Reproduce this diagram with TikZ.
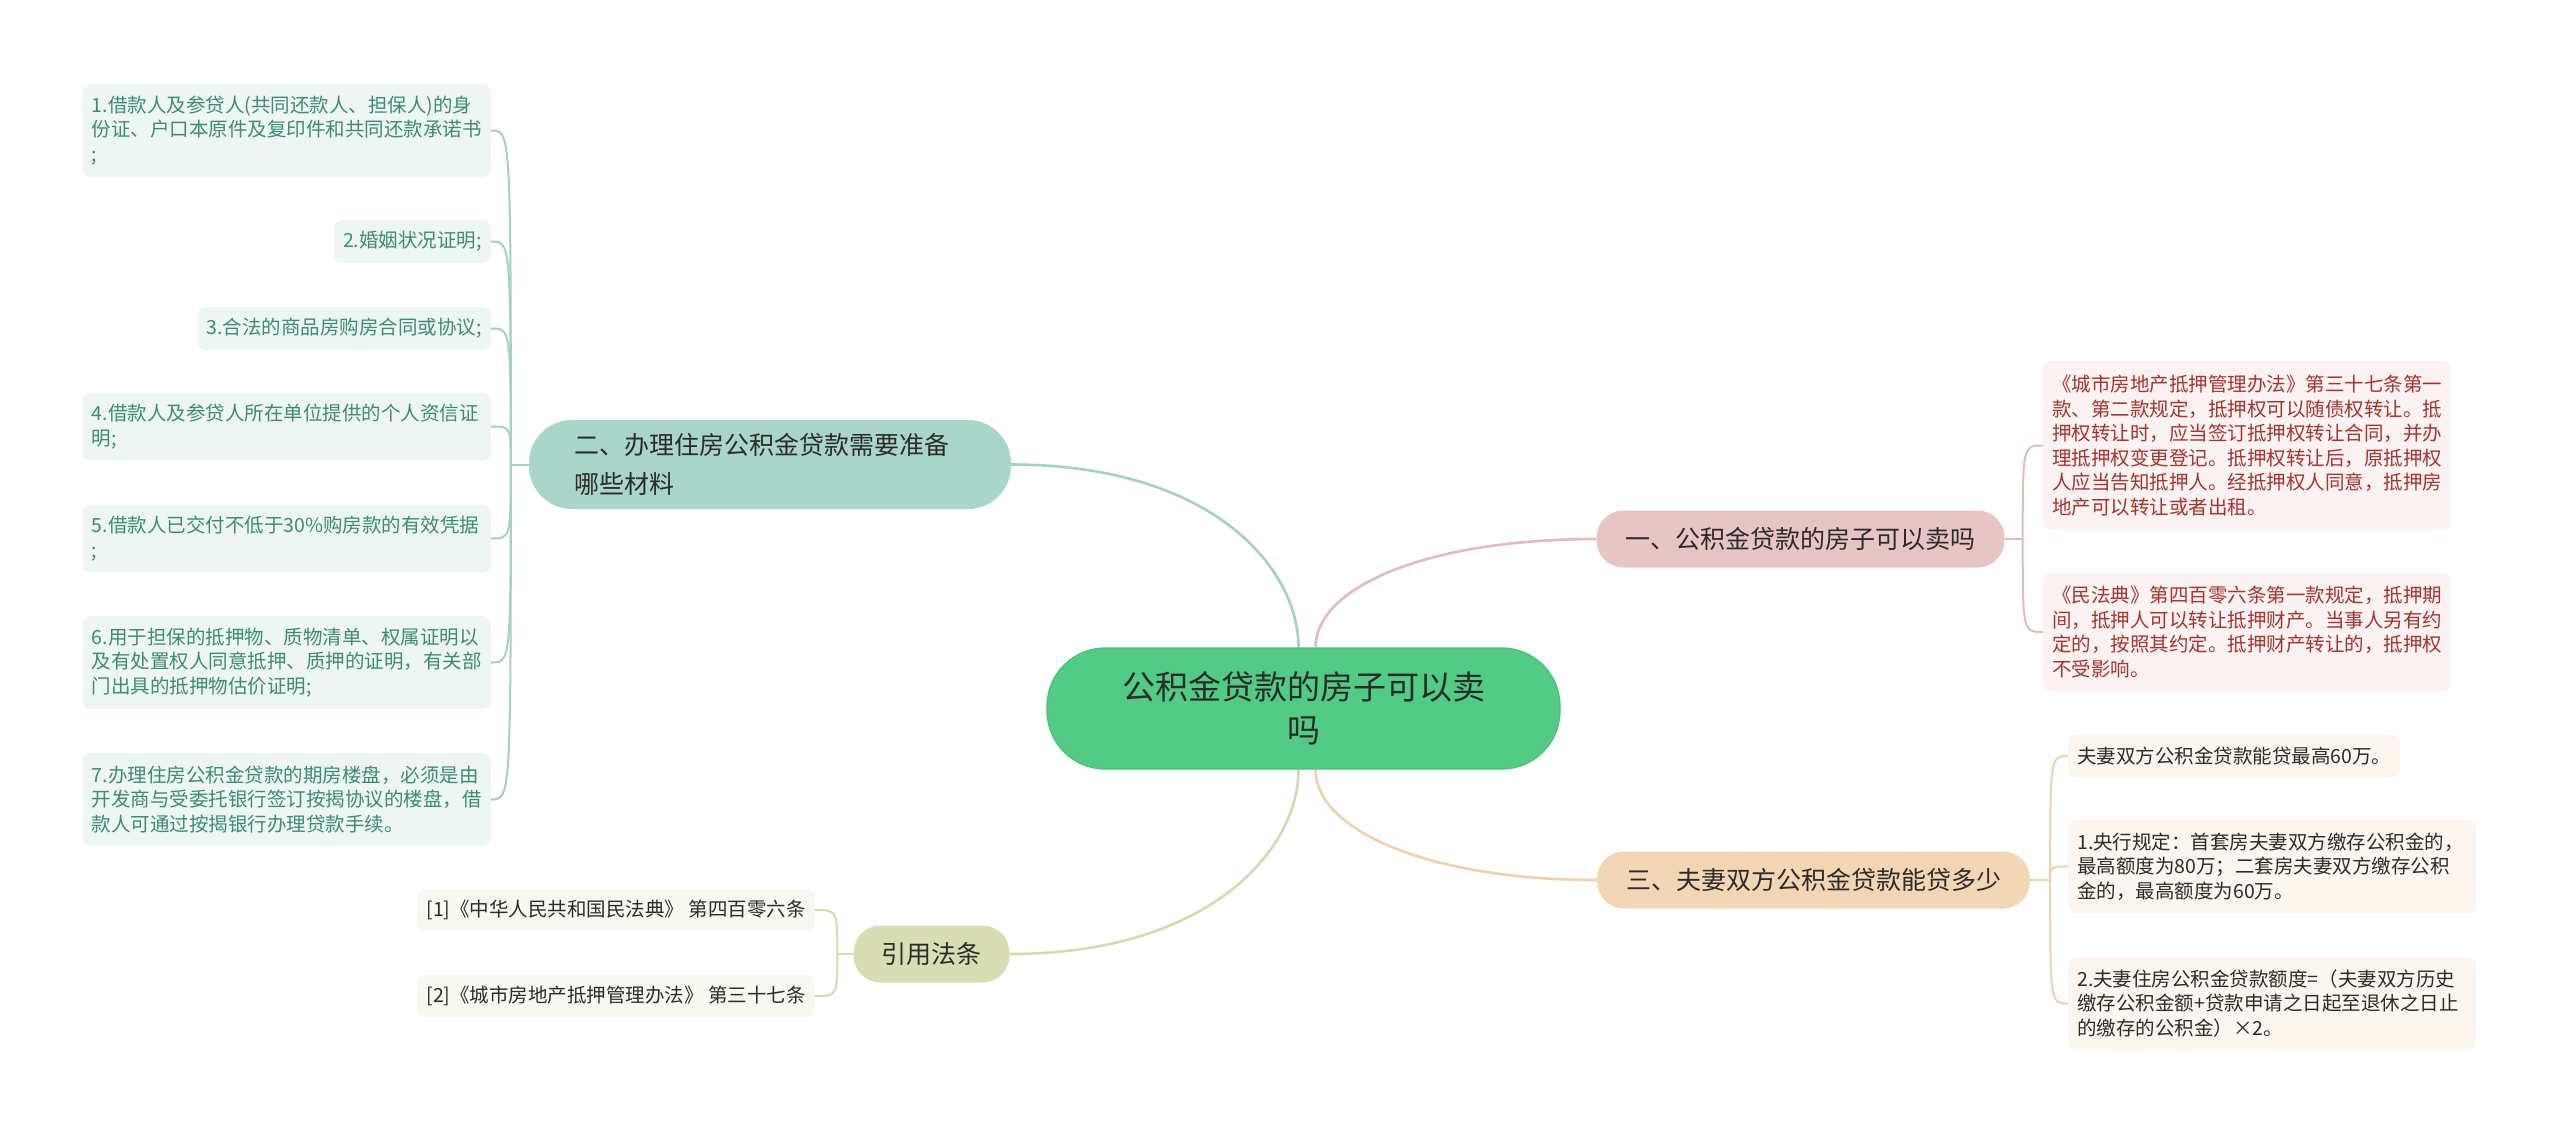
\documentclass[tikz,border=0pt]{standalone}
\usepackage{fontspec}
\setmainfont{Noto Sans CJK SC}
\usetikzlibrary{calc}

\definecolor{rootfill}{HTML}{52CC84}
\definecolor{rootline}{HTML}{4BBF7B}
\definecolor{tealfill}{HTML}{A9D5CA}
\definecolor{tealline}{HTML}{A3D1C5}
\definecolor{tealleaf}{HTML}{EEF6F4}
\definecolor{tealtext}{HTML}{3A8C76}
\definecolor{pinkfill}{HTML}{E8C5C5}
\definecolor{pinkline}{HTML}{E2BBBB}
\definecolor{pinkleaf}{HTML}{FBF2F2}
\definecolor{pinktext}{HTML}{A5342D}
\definecolor{tanfill}{HTML}{F3D6B3}
\definecolor{tanline}{HTML}{EFD1AE}
\definecolor{tanleaf}{HTML}{FDF6EE}
\definecolor{olivefill}{HTML}{D9DDB3}
\definecolor{oliveline}{HTML}{D6DAB0}
\definecolor{oliveleaf}{HTML}{F7F8F0}
\definecolor{darktext}{HTML}{2B2B2B}

\tikzset{
  root/.style={fill=rootfill, draw=rootline, line width=1.2pt, rounded corners=58pt,
    minimum width=513pt, minimum height=121pt, align=center, text=darktext,
    font=\fontsize{33pt}{43pt}\selectfont},
  branch/.style={rounded corners=27pt, inner xsep=29pt, inner ysep=0pt, minimum height=57pt,
    text=darktext, font=\fontsize{25pt}{39pt}\selectfont},
  leaf/.style={rounded corners=8pt, inner xsep=9pt, inner ysep=0pt, align=left,
    font=\fontsize{19.5pt}{24.5pt}\selectfont},
  mleaf/.style={leaf, fill=tealleaf, text=tealtext},
  rleaf/.style={leaf, fill=pinkleaf, text=pinktext},
  sleaf/.style={leaf, fill=tanleaf, text=darktext},
  qleaf/.style={leaf, fill=oliveleaf, text=darktext},
  mainline/.style={line width=2.6pt},
  subline/.style={line width=2pt},
}

\begin{document}
\begin{tikzpicture}[x=1pt,y=-1pt]
\fill[white] (0,0) rectangle (2560,1135);
\useasboundingbox (0,0) rectangle (2560,1135);

% centre and branches
\node[root] (c) at (1303.5,708.5) {公积金贷款的房子可以卖\\吗};
\node[branch, fill=tealfill, text width=392pt, align=left, inner xsep=45pt, minimum height=89pt, rounded corners=43pt] (b2) at (770,464.5) {二、办理住房公积金贷款需要准备\\哪些材料};
\node[branch, fill=pinkfill] (b1) at (1800.5,539) {一、公积金贷款的房子可以卖吗};
\node[branch, fill=tanfill] (b3) at (1813.5,880) {三、夫妻双方公积金贷款能贷多少};
\node[branch, fill=olivefill, inner xsep=28pt] (b4) at (931.5,954) {引用法条};

\draw[mainline, tealline] ([xshift=-5pt]c.north) .. controls +(0,-80) and +(200,0) .. (b2.east);
\draw[mainline, pinkline] ([xshift=12pt]c.north) .. controls +(0,-60) and +(-170,0) .. (b1.west);
\draw[mainline, tanline] ([xshift=12pt]c.south) .. controls +(0,60) and +(-170,0) .. (b3.west);
\draw[mainline, oliveline] ([xshift=-5pt]c.south) .. controls +(0,80) and +(200,0) .. (b4.east);

% materials
\node[mleaf, text width=390pt, minimum height=93pt, anchor=east] (m1) at (491,130.5) {1.借款人及参贷人(共同还款人、担保人)的身\\份证、户口本原件及复印件和共同还款承诺书\\;};
\node[mleaf, minimum height=43pt, anchor=east] (m2) at (491,241.5) {2.婚姻状况证明;};
\node[mleaf, minimum height=43pt, anchor=east] (m3) at (491,328.5) {3.合法的商品房购房合同或协议;};
\node[mleaf, text width=390pt, minimum height=68pt, anchor=east] (m4) at (491,426.5) {4.借款人及参贷人所在单位提供的个人资信证\\明;};
\node[mleaf, text width=390pt, minimum height=68pt, anchor=east] (m5) at (491,538.5) {5.借款人已交付不低于30\%购房款的有效凭据\\;};
\node[mleaf, text width=390pt, minimum height=93pt, anchor=east] (m6) at (491,662.5) {6.用于担保的抵押物、质物清单、权属证明以\\及有处置权人同意抵押、质押的证明，有关部\\门出具的抵押物估价证明;};
\node[mleaf, text width=390pt, minimum height=93pt, anchor=east] (m7) at (491,799.5) {7.办理住房公积金贷款的期房楼盘，必须是由\\开发商与受委托银行签订按揭协议的楼盘，借\\款人可通过按揭银行办理贷款手续。};

\draw[subline, tealline] (b2.west) -- ++(-18,0) coordinate (j2);
\foreach \i in {1,...,7}
  \draw[subline, tealline] (j2) .. controls (j2 |- m\i.east) .. (m\i.east);

% can it be sold
\node[rleaf, text width=390pt, minimum height=169pt, anchor=west] (r1) at (2043,445.5) {《城市房地产抵押管理办法》第三十七条第一\\款、第二款规定，抵押权可以随债权转让。抵\\押权转让时，应当签订抵押权转让合同，并办\\理抵押权变更登记。抵押权转让后，原抵押权\\人应当告知抵押人。经抵押权人同意，抵押房\\地产可以转让或者出租。};
\node[rleaf, text width=390pt, minimum height=118pt, anchor=west] (r2) at (2043,632) {《民法典》第四百零六条第一款规定，抵押期\\间，抵押人可以转让抵押财产。当事人另有约\\定的，按照其约定。抵押财产转让的，抵押权\\不受影响。};

\draw[subline, pinkline] (b1.east) -- ++(18,0) coordinate (j1);
\foreach \i in {1,2}
  \draw[subline, pinkline] (j1) .. controls (j1 |- r\i.west) .. (r\i.west);

% amount
\node[sleaf, minimum height=43pt, anchor=west] (s1) at (2068,756) {夫妻双方公积金贷款能贷最高60万。};
\node[sleaf, text width=390pt, minimum height=93pt, anchor=west] (s2) at (2068,866.5) {1.央行规定：首套房夫妻双方缴存公积金的，\\最高额度为80万；二套房夫妻双方缴存公积\\金的，最高额度为60万。};
\node[sleaf, text width=390pt, minimum height=93pt, anchor=west] (s3) at (2068,1003.5) {2.夫妻住房公积金贷款额度=（夫妻双方历史\\缴存公积金额+贷款申请之日起至退休之日止\\的缴存的公积金）×2。};

\draw[subline, tanline] (b3.east) -- ++(20,0) coordinate (j3);
\foreach \i in {1,2,3}
  \draw[subline, tanline] (j3) .. controls (j3 |- s\i.west) .. (s\i.west);

% citations
\node[qleaf, minimum height=42pt, anchor=east] (q1) at (815,910) {[1]《中华人民共和国民法典》 第四百零六条};
\node[qleaf, minimum height=42pt, anchor=east] (q2) at (815,996) {[2]《城市房地产抵押管理办法》 第三十七条};

\draw[subline, oliveline] (b4.west) -- ++(-16,0) coordinate (j4);
\foreach \i in {1,2}
  \draw[subline, oliveline] (j4) .. controls (j4 |- q\i.east) .. (q\i.east);
\end{tikzpicture}
\end{document}
